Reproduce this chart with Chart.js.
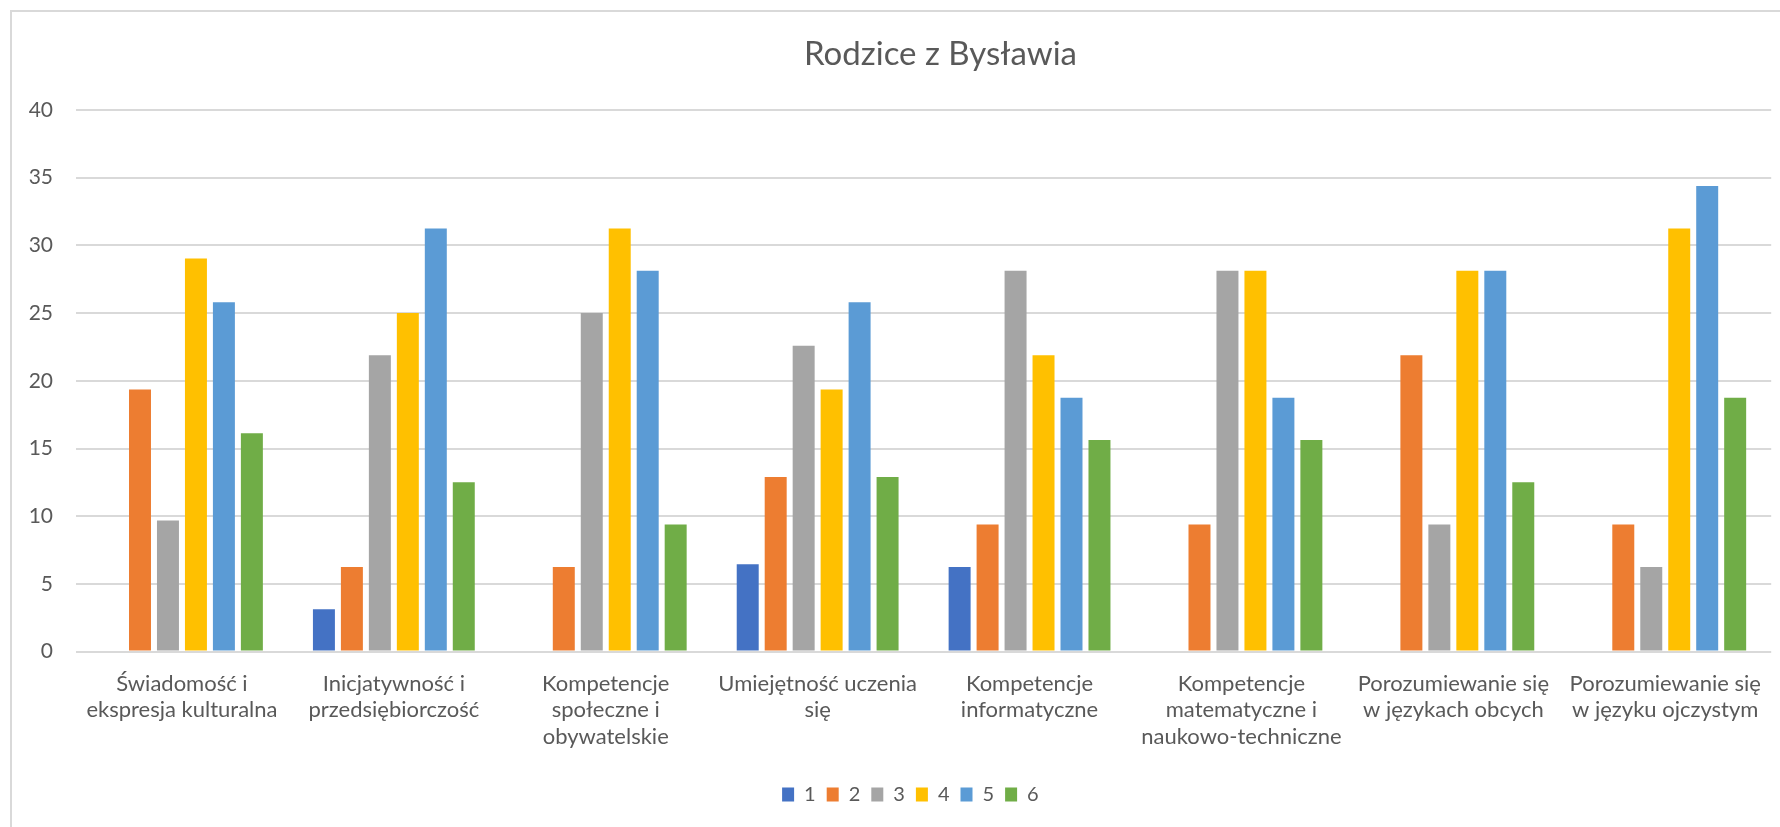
<!DOCTYPE html>
<html><head><meta charset="utf-8">
<script src="https://cdn.jsdelivr.net/npm/chart.js@4.4.1/dist/chart.umd.min.js"></script>
<style>
html,body{margin:0;padding:0;background:#fff;overflow:hidden;width:1780px;height:827px;}
#frame{position:absolute;left:10px;top:10px;width:1800px;height:900px;border-left:2px solid #d9d9d9;border-top:2px solid #d9d9d9;}
#wrap{position:absolute;left:0;top:0;width:1780px;height:827px;}
</style></head><body>
<div id="frame"></div>
<div id="wrap"><canvas id="c" width="1780" height="827"></canvas></div>
<script>
const titleText = 'Rodzice z Bysławia';
const categories = [
  ['Świadomość i', 'ekspresja kulturalna'],
  ['Inicjatywność i', 'przedsiębiorczość'],
  ['Kompetencje', 'społeczne i', 'obywatelskie'],
  ['Umiejętność uczenia', 'się'],
  ['Kompetencje', 'informatyczne'],
  ['Kompetencje', 'matematyczne i', 'naukowo-techniczne'],
  ['Porozumiewanie się', 'w językach obcych'],
  ['Porozumiewanie się', 'w języku ojczystym']
];
const seriesNames = ['1', '2', '3', '4', '5', '6'];
const series1 = [0, 3.13, 0, 6.45, 6.25, 0, 0, 0];
const series2 = [19.35, 6.25, 6.25, 12.9, 9.38, 9.38, 21.88, 9.38];
const series3 = [9.68, 21.88, 25, 22.58, 28.13, 28.13, 9.38, 6.25];
const series4 = [29.03, 25, 31.25, 19.35, 21.88, 28.13, 28.13, 31.25];
const series5 = [25.81, 31.25, 28.13, 25.81, 18.75, 18.75, 28.13, 34.38];
const series6 = [16.13, 12.5, 9.38, 12.9, 15.63, 15.63, 12.5, 18.75];
const yTicks = [0, 5, 10, 15, 20, 25, 30, 35, 40];

const colors = ['#4472C4', '#ED7D31', '#A5A5A5', '#FFC000', '#5B9BD5', '#70AD47'];
const allSeries = [series1, series2, series3, series4, series5, series6];
const textColor = '#595959';
Chart.defaults.font.family = 'Lato, "Open Sans", sans-serif';
Chart.defaults.color = textColor;

const shiftBlocks = {
  id: 'shiftBlocks',
  afterLayout(chart) {
    const t = chart.titleBlock;
    if (t) { t.left += 49.5; t.right += 49.5; }
    const l = chart.legend;
    if (l) { l.left += 19.4; l.right += 19.4; }
  }
};

new Chart(document.getElementById('c'), {
  type: 'bar',
  data: {
    labels: categories,
    datasets: allSeries.map((d, i) => ({
      label: seriesNames[i],
      data: d,
      backgroundColor: colors[i],
      borderWidth: 0,
      categoryPercentage: 0.792,
      barPercentage: 0.786
    }))
  },
  options: {
    responsive: false,
    animation: false,
    devicePixelRatio: 1,
    layout: { padding: { left: 10, right: 8, top: 0, bottom: 12.6 } },
    plugins: {
      tooltip: { enabled: false },
      title: {
        display: true,
        text: titleText,
        color: textColor,
        font: { size: 33, weight: 'normal', lineHeight: 1.2 },
        padding: { top: 34.7, bottom: 35.7 }
      },
      legend: {
        position: 'bottom',
        labels: {
          boxWidth: 12,
          boxHeight: 14,
          padding: 11,
          color: textColor,
          font: { size: 20 }
        }
      }
    },
    scales: {
      x: {
        grid: { display: false, drawTicks: false },
        border: { display: false },
        ticks: {
          color: textColor,
          font: { size: 22, lineHeight: 1.214 },
          padding: 18.6,
          maxRotation: 0,
          autoSkip: false
        },
        afterFit(s) { s.height = 121.8; }
      },
      y: {
        min: 0,
        max: 40,
        afterBuildTicks(s) { s.ticks = yTicks.map(v => ({ value: v })); },
        grid: { color: '#d9d9d9', lineWidth: 2, drawTicks: false },
        border: { display: false },
        ticks: {
          color: textColor,
          font: { size: 21 },
          padding: 23
        },
        afterFit(s) { s.width = 66; }
      }
    }
  },
  plugins: [shiftBlocks]
});
</script>
</body></html>
